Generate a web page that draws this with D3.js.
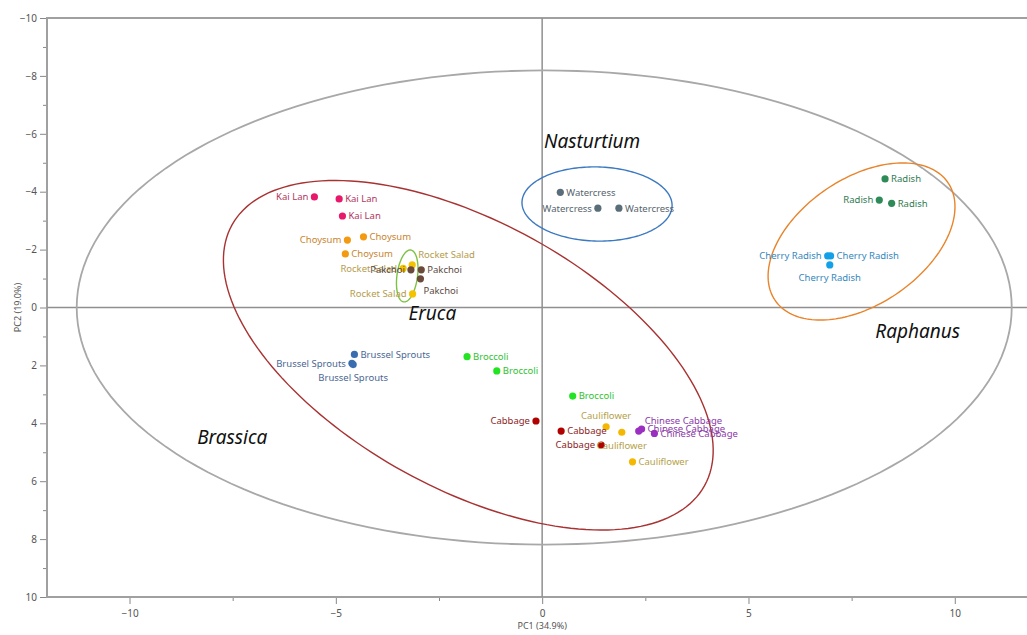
<!DOCTYPE html>
<html>
<head>
<meta charset="utf-8">
<script src="https://cdn.jsdelivr.net/npm/d3@7"></script>
<style>
  body { margin: 0; background: #fff; }
  svg text { font-family: "Noto Sans", sans-serif; }
</style>
</head>
<body>
<div id="chart-area"></div>
<script>
// sample groups, three replicates each
const groups = ["Kai Lan", "Choysum", "Rocket Salad", "Pakchoi", "Watercress", "Radish",
                "Cherry Radish", "Brussel Sprouts", "Broccoli", "Cabbage", "Cauliflower", "Chinese Cabbage"];
const pc1 = [
    [-5.52, -4.92, -4.84],
    [-4.72, -4.33, -4.77],
    [-3.15, -3.37, -3.14],
    [-3.18, -2.93, -2.95],
    [0.44, 1.35, 1.86],
    [8.31, 8.17, 8.47],
    [6.92, 6.99, 6.97],
    [-4.55, -4.61, -4.58],
    [-1.82, -1.10, 0.74],
    [-0.15, 0.46, 1.43],
    [1.55, 1.93, 2.19],
    [2.34, 2.41, 2.72]
];
const pc2 = [
    [-3.82, -3.75, -3.16],
    [-2.33, -2.44, -1.85],
    [-1.47, -1.35, -0.47],
    [-1.30, -1.30, -0.99],
    [-3.98, -3.43, -3.43],
    [-4.44, -3.71, -3.60],
    [-1.78, -1.78, -1.47],
    [1.62, 1.93, 1.97],
    [1.70, 2.19, 3.06],
    [3.92, 4.27, 4.75],
    [4.12, 4.31, 5.33],
    [4.27, 4.20, 4.35]
];

// genus ellipses (centre, semi axes, rotation in data units)
const genera = ["Total", "Brassica", "Eruca", "Nasturtium", "Raphanus"];
const ellCx = [0.05, -1.79, -3.27, 1.33, 7.74];
const ellCy = [0.0, 1.65, -1.09, -3.575, -2.28];
const ellRx = [11.33, 7.44, 0.25, 1.82, 3.03];
const ellRy = [8.19, 4.04, 0.90, 1.28, 1.82];
const ellAngle = [0, 45.9, 5, 3, -56.2];

const xTicks = [-10, -5, 0, 5, 10];
const yTicks = [-10, -8, -6, -4, -2, 0, 2, 4, 6, 8, 10];

// --- styling / layout ---
const dotColor = ["#e8196a", "#f39a10", "#f5c200", "#6b4a3c", "#5a6e7a", "#2e8b57",
                  "#12a0e8", "#3a6db0", "#22e422", "#b00000", "#f5b800", "#9a2fc2"];
const textColor = ["#b3365f", "#c7852e", "#b59c4c", "#5c4a42", "#56646e", "#2f7a52",
                   "#3587bd", "#4a6794", "#2fc22f", "#8c2424", "#b59f4a", "#8a38a8"];
// label placement per point: r right, l left, b below, t above, tr above-right, br below-right
const labelSide = [
    ["l", "r", "r"],
    ["l", "r", "r"],
    ["tr", "l", "l"],
    ["l", "r", "br"],
    ["r", "l", "r"],
    ["r", "l", "r"],
    ["l", "r", "b"],
    ["r", "l", "b"],
    ["r", "r", "r"],
    ["l", "r", "l"],
    ["t", "b", "r"],
    ["tr", "r", "r"]
];
const ellColor = ["#a8a8a8", "#a83232", "#7cc242", "#3b79c2", "#e8842c"];
const titlePos = {Brassica: [-7.51, 4.47], Eruca: [-2.66, 0.19], Nasturtium: [1.21, -5.75], Raphanus: [9.10, 0.81]};

let margin = {left: 47, right: 0, top: 18, bottom: 38};
let width = 1027 - margin.left - margin.right;
let height = 635 - margin.top - margin.bottom;

let svg = d3.select("#chart-area")
            .append("svg")
            .attr("width", 1027)
            .attr("height", 635);

let g = svg.append("g")
            .attr("transform", "translate(" + margin.left + "," + margin.top + ")");

let x = d3.scaleLinear().domain([-12, 11.75]).range([0, width]);
let y = d3.scaleLinear().domain([-10, 10]).range([0, height]);

// minor ticks
g.append("g")
    .attr("transform", "translate(0," + height + ")")
    .call(d3.axisBottom(x).tickValues([-7.5, -2.5, 2.5, 7.5]).tickSize(4).tickFormat(""))
    .call(a => a.select(".domain").remove())
    .selectAll("line").attr("stroke", "#888");
g.append("g")
    .call(d3.axisLeft(y).tickValues(d3.range(-9, 10, 2)).tickSize(4).tickFormat(""))
    .call(a => a.select(".domain").remove())
    .selectAll("line").attr("stroke", "#888");

// x axis
let xAxis = g.append("g")
    .attr("transform", "translate(0," + height + ")")
    .call(d3.axisBottom(x).tickValues(xTicks).tickSize(7).tickPadding(6));
xAxis.select(".domain").remove();
xAxis.selectAll("line").attr("stroke", "#888");
xAxis.selectAll("text").attr("font-size", "10px").attr("fill", "#555")
    .attr("font-family", "Noto Sans, sans-serif");

// y axis
let yAxis = g.append("g")
    .call(d3.axisLeft(y).tickValues(yTicks).tickSize(7).tickPadding(3));
yAxis.select(".domain").remove();
yAxis.selectAll("line").attr("stroke", "#888");
yAxis.selectAll("text").attr("font-size", "10px").attr("fill", "#555")
    .attr("font-family", "Noto Sans, sans-serif");

// frame
g.append("path")
    .attr("d", "M" + width + ",0H0V" + height + "H" + width)
    .attr("fill", "none")
    .attr("stroke", "#a0a0a0")
    .attr("stroke-width", 2);

// zero lines
g.append("line").attr("x1", x(0)).attr("x2", x(0)).attr("y1", 0).attr("y2", height)
    .attr("stroke", "#909090").attr("stroke-width", 1.5);
g.append("line").attr("x1", 0).attr("x2", width).attr("y1", y(0)).attr("y2", y(0))
    .attr("stroke", "#909090").attr("stroke-width", 1.5);

// axis labels
svg.append("text")
    .text("PC1 (34.9%)")
    .attr("x", margin.left + x(0))
    .attr("y", 629)
    .attr("text-anchor", "middle")
    .attr("font-size", "9px")
    .attr("fill", "#555");
svg.append("text")
    .text("PC2 (19.0%)")
    .attr("transform", "translate(21," + (margin.top + y(0)) + ") rotate(-90)")
    .attr("text-anchor", "middle")
    .attr("font-size", "9px")
    .attr("fill", "#555");

// ellipses
let line = d3.line().curve(d3.curveLinearClosed);
function ellipsePoints(i) {
    let a = ellAngle[i] * Math.PI / 180;
    return d3.range(0, 2 * Math.PI, Math.PI / 90).map(function(t) {
        let u = ellRx[i] * Math.cos(t), v = ellRy[i] * Math.sin(t);
        return [x(ellCx[i] + u * Math.cos(a) - v * Math.sin(a)),
                y(ellCy[i] + u * Math.sin(a) + v * Math.cos(a))];
    });
}
g.selectAll(".ellipse")
    .data(genera)
    .enter()
    .append("path")
    .attr("class", "ellipse")
    .attr("d", function(d, i) { return line(ellipsePoints(i)); })
    .attr("fill", "none")
    .attr("stroke", function(d, i) { return ellColor[i]; })
    .attr("stroke-width", function(d, i) { return i == 0 ? 1.8 : 1.4; });

// flatten points
let points = [];
groups.forEach(function(name, gi) {
    pc1[gi].forEach(function(v, k) {
        points.push({name: name, gi: gi, x: v, y: pc2[gi][k], side: labelSide[gi][k]});
    });
});

g.selectAll("circle")
    .data(points)
    .enter()
    .append("circle")
    .attr("cx", function(d) { return x(d.x); })
    .attr("cy", function(d) { return y(d.y); })
    .attr("r", 3.6)
    .attr("fill", function(d) { return dotColor[d.gi]; });

let offs = {r: [6, 0, "start"], l: [-6, 0, "end"], b: [0, 13, "middle"], t: [0, -11, "middle"],
            tr: [6, -10, "start"], br: [3, 12, "start"]};
g.selectAll(".plabel")
    .data(points)
    .enter()
    .append("text")
    .attr("class", "plabel")
    .text(function(d) { return d.name; })
    .attr("x", function(d) { return x(d.x) + offs[d.side][0]; })
    .attr("y", function(d) { return y(d.y) + offs[d.side][1]; })
    .attr("dy", "0.35em")
    .attr("text-anchor", function(d) { return offs[d.side][2]; })
    .attr("font-size", "9.5px")
    .attr("fill", function(d) { return textColor[d.gi]; });

// genus titles
g.selectAll(".genus")
    .data(Object.keys(titlePos))
    .enter()
    .append("text")
    .attr("class", "genus")
    .text(function(d) { return d; })
    .attr("x", function(d) { return x(titlePos[d][0]); })
    .attr("y", function(d) { return y(titlePos[d][1]); })
    .attr("dy", "0.35em")
    .attr("text-anchor", "middle")
    .attr("font-family", "Lato, sans-serif")
    .attr("font-style", "italic")
    .attr("font-size", "19px")
    .attr("fill", "#111");
</script>
</body>
</html>
